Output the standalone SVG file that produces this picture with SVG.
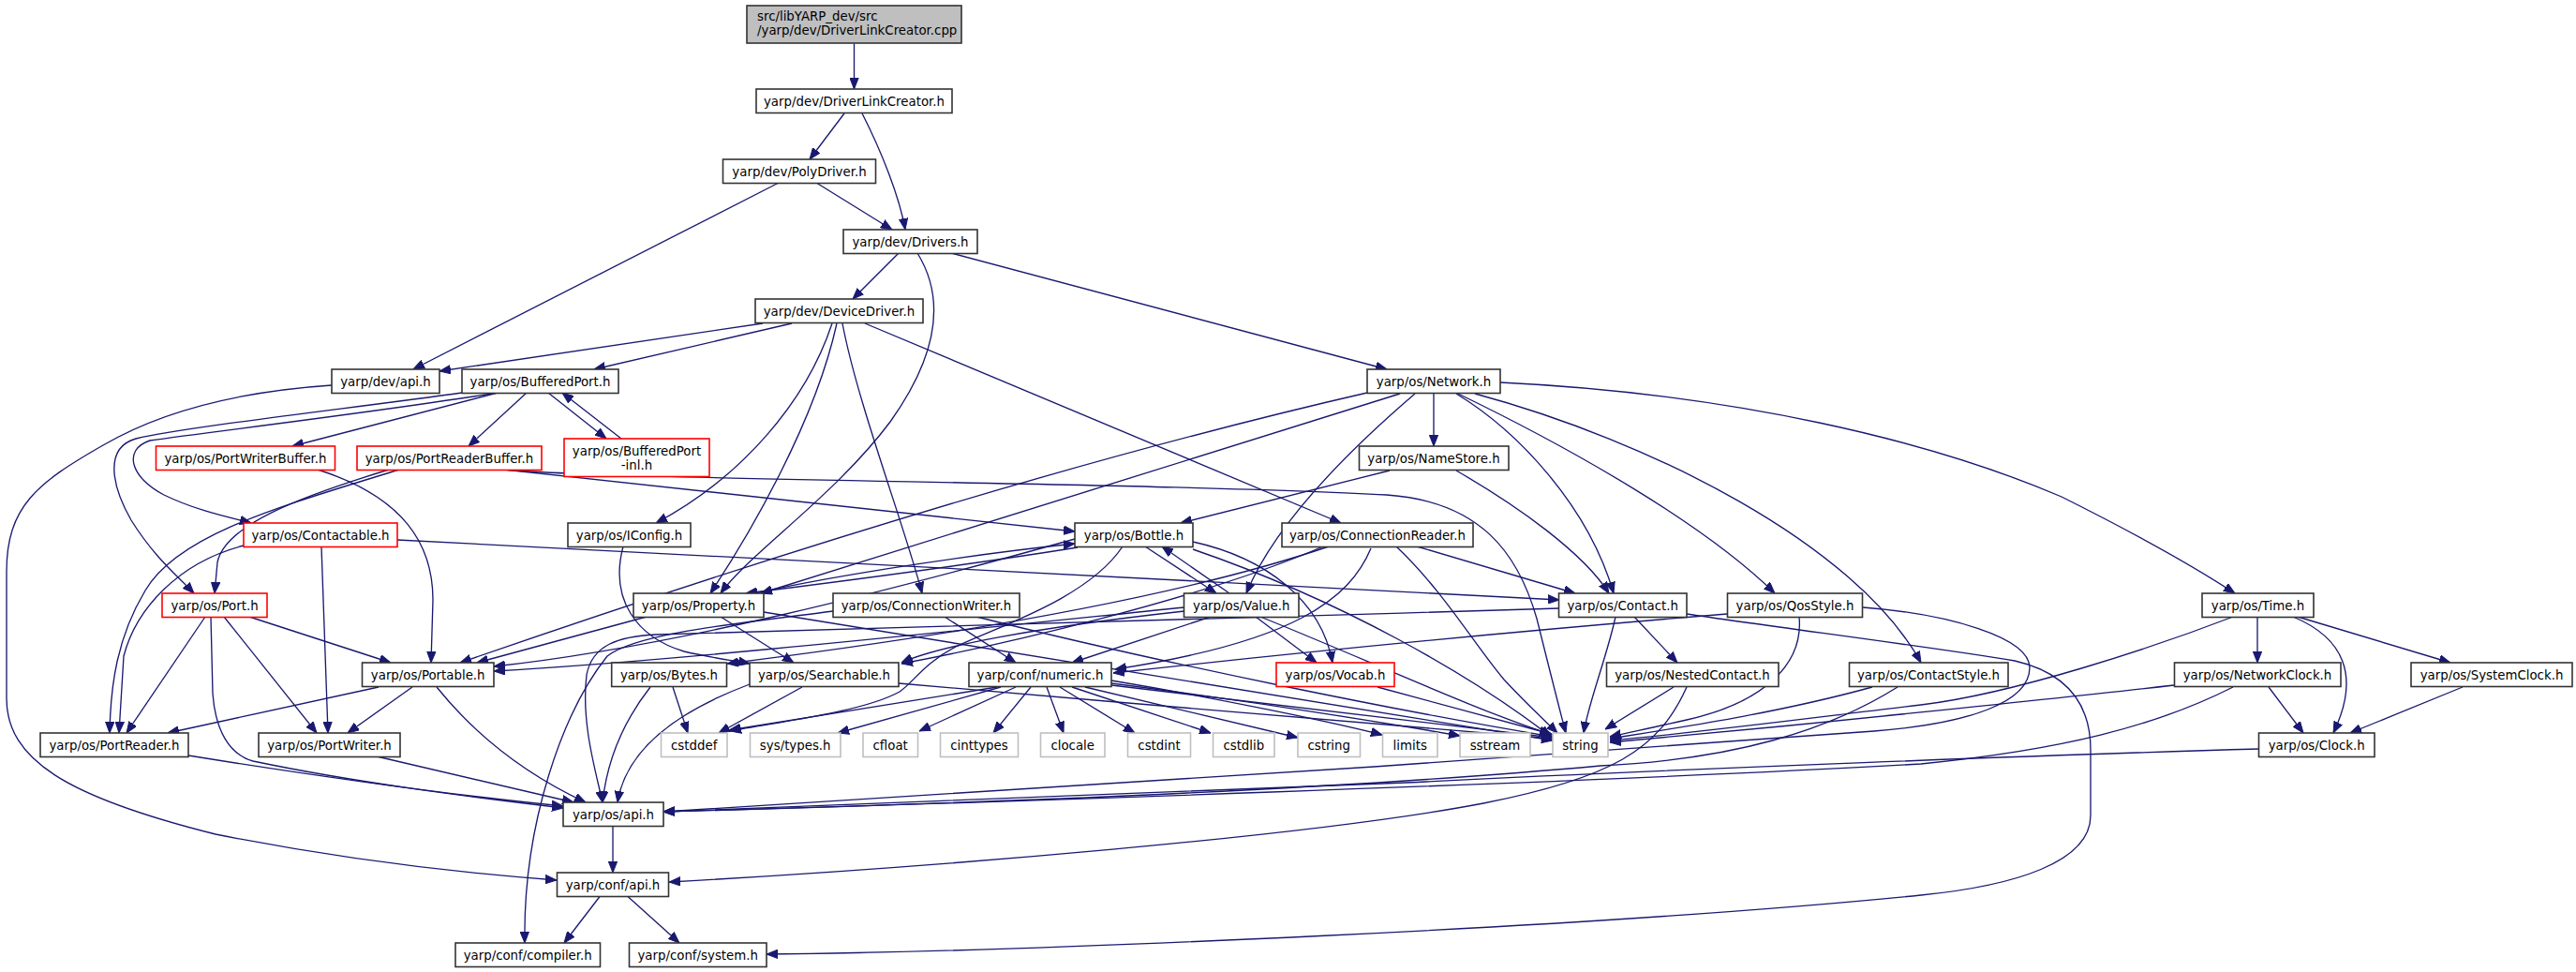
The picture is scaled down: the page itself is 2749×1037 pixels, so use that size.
<svg xmlns="http://www.w3.org/2000/svg" width="2749" height="1037" viewBox="0 0 2749 1037">
<defs>
<marker id="ah" markerUnits="userSpaceOnUse" markerWidth="12" markerHeight="10" viewBox="0 0 12 10" refX="12" refY="5" orient="auto">
<path d="M0,0.3 L12,5 L0,9.7 z" fill="#191970" stroke="#191970" stroke-width="1"/>
</marker>
</defs>
<style>
.n rect{fill:#ffffff;stroke:#333333;stroke-width:1.6}
.r rect{fill:#ffffff;stroke:#ff0000;stroke-width:1.6}
.g rect{fill:#ffffff;stroke:#bfbfbf;stroke-width:1.6}
.root rect{fill:#bfbfbf;stroke:#333333;stroke-width:1.6}
text{font-family:"DejaVu Sans","Liberation Sans",sans-serif;font-size:13.33px;fill:#000000;text-anchor:middle}
.lt{text-anchor:start}
#edges path{fill:none;stroke:#191970;stroke-width:1.33;marker-end:url(#ah)}
</style>
<rect width="2749" height="1037" fill="#ffffff"/>
<g id="edges">
<path d="M911.5,46.5 L911.5,95"/>
<path d="M901,121 L864,170"/>
<path d="M920,121 C940,160 960,210 966,245"/>
<path d="M872,195.5 L952,245"/>
<path d="M830,195.5 L441,394"/>
<path d="M959,270 L910,319"/>
<path d="M1015,270 L1480,394"/>
<path d="M979,270 C1010,320 1000,380 950,450 C890,530 800,590 769,633"/>
<path d="M814,345 L469,396"/>
<path d="M845,345 L634,394"/>
<path d="M888,345 C860,430 790,510 700,558"/>
<path d="M893,345 C870,450 800,570 758,633"/>
<path d="M899,345 C915,430 965,560 984,633"/>
<path d="M923,345 L1431,558"/>
<path d="M354,411 C250,418 170,440 110,475 C40,515 7,540 7,610 L7,745 C7,810 70,850 230,890 C380,920 500,932 594,939"/>
<path d="M493,419 C380,435 200,455 145,468 C110,478 120,520 140,555 C165,595 190,615 207,633"/>
<path d="M531,419 C400,440 230,460 160,470 C130,480 140,510 175,528 C210,545 245,552 268,558"/>
<path d="M531,419 L312,476"/>
<path d="M562,419 L500,476"/>
<path d="M585,419 L647,468"/>
<path d="M663,468 L600,419"/>
<path d="M339,501 C430,530 462,580 462,640 L460,707"/>
<path d="M415,501 C320,530 240,560 232,600 L229,633"/>
<path d="M426,501 C300,540 190,570 155,630 C125,680 118,730 117,782"/>
<path d="M538,501 L1147,567"/>
<path d="M538,501 C650,512 1250,515 1480,528 C1580,535 1620,590 1640,660 C1655,720 1665,760 1671,782"/>
<path d="M424,576 L1664,640"/>
<path d="M260,582 C190,600 145,650 132,700 L127,782"/>
<path d="M343,583 L350,782"/>
<path d="M219,658 L135,782"/>
<path d="M225,658 L227,740 C230,780 245,805 270,812 C380,835 500,850 601,862"/>
<path d="M239,658 L338,782"/>
<path d="M266,658 L417,707"/>
<path d="M665,583 C650,640 680,680 730,695 C760,702 785,705 800,708"/>
<path d="M1530,420 L1530,476"/>
<path d="M1554,420 C1620,460 1695,540 1722,633"/>
<path d="M1556,420 C1680,480 1820,560 1894,633"/>
<path d="M1574,420 C1760,470 1980,580 2050,707"/>
<path d="M1601,408 C1850,420 2060,470 2200,530 C2290,575 2350,610 2385,633"/>
<path d="M1459,419 C1150,490 800,600 491,707"/>
<path d="M1494,420 L812,633"/>
<path d="M1510,420 C1440,480 1360,560 1330,633"/>
<path d="M1483,502 L1260,558"/>
<path d="M1554,502 C1620,540 1690,590 1717,633"/>
<path d="M1512,583 L1681,633"/>
<path d="M1490,583 C1540,630 1575,690 1605,725 C1630,752 1650,770 1662,782"/>
<path d="M1463,585 C1440,640 1380,685 1190,714"/>
<path d="M1418,583 C1250,640 1000,680 776,708"/>
<path d="M1412,583 C1280,640 1060,690 962,708"/>
<path d="M805,633 C900,612 1050,590 1147,580"/>
<path d="M1150,584 C1050,600 900,620 796,633"/>
<path d="M1222,583 L1298,633"/>
<path d="M1312,633 L1240,583"/>
<path d="M1198,583 C1160,640 1060,670 1020,690 C985,708 975,728 960,738 C920,760 830,770 779,780"/>
<path d="M1273,578 C1350,595 1410,640 1422,707"/>
<path d="M1273,586 C1430,640 1570,720 1655,786"/>
<path d="M1147,575 C950,630 720,690 527,711"/>
<path d="M690,658 L509,707"/>
<path d="M769,658 L847,707"/>
<path d="M815,653 L1657,790"/>
<path d="M1292,658 L1144,707"/>
<path d="M1340,658 L1405,707"/>
<path d="M1345,658 C1450,700 1580,760 1657,784"/>
<path d="M1264,652 C1100,670 1000,690 962,707"/>
<path d="M1264,648 C1000,675 720,705 527,716"/>
<path d="M1008,658 L1084,707"/>
<path d="M1042,658 C1250,710 1500,760 1657,786"/>
<path d="M1664,649 C1300,660 900,672 700,677 C660,679 632,688 626,720 C620,770 635,820 643,856"/>
<path d="M889,652 C790,665 680,675 648,700 C600,760 558,880 560,1006"/>
<path d="M1744,658 L1790,707"/>
<path d="M1724,658 C1715,700 1695,750 1690,782"/>
<path d="M1800,655 C1900,670 2060,690 2150,705 C2215,720 2231,760 2231,800 L2231,870 C2231,920 2150,945 2050,955 C1700,990 1100,1015 818,1018"/>
<path d="M1843,655 C1600,675 1350,700 1188,718"/>
<path d="M1920,658 C1925,710 1880,750 1800,768 C1765,776 1740,781 1718,786"/>
<path d="M1988,648 C2080,655 2165,680 2166,712 C2166,750 2100,772 2000,780 C1600,810 1000,850 708,866"/>
<path d="M1786,733 L1713,778"/>
<path d="M1800,733 C1770,800 1720,830 1583,857 C1400,892 1000,925 714,941"/>
<path d="M1998,733 C1900,760 1800,775 1718,788"/>
<path d="M2025,733 C1950,780 1850,810 1708,817 C1400,845 1000,858 708,866"/>
<path d="M2409,658 L2409,707"/>
<path d="M2452,658 L2615,707"/>
<path d="M2447,658 C2500,680 2520,720 2490,782"/>
<path d="M2383,658 C2300,690 2150,740 2050,752 C1900,770 1800,783 1718,790"/>
<path d="M2421,733 L2458,782"/>
<path d="M2320,731 C2200,745 2050,760 1900,775 C1820,782 1760,788 1718,792"/>
<path d="M2383,733 C2300,775 2200,800 2050,815 C1700,835 1000,858 708,866"/>
<path d="M2628,733 L2508,782"/>
<path d="M2411,799 C2200,805 1800,820 1500,835 C1100,850 850,860 708,866"/>
<path d="M404,733 L179,782"/>
<path d="M440,733 L371,782"/>
<path d="M466,733 C520,800 580,835 625,856"/>
<path d="M201,806 C350,830 500,850 601,860"/>
<path d="M402,807 L612,856"/>
<path d="M718,733 L734,782"/>
<path d="M694,733 C665,770 648,810 643,856"/>
<path d="M856,733 L767,782"/>
<path d="M800,730 C720,760 668,800 659,856"/>
<path d="M959,729 C1200,750 1500,775 1657,788"/>
<path d="M1064,733 L778,779"/>
<path d="M1068,733 L894,782"/>
<path d="M1084,733 L981,780"/>
<path d="M1100,733 L1060,782"/>
<path d="M1117,733 L1135,782"/>
<path d="M1131,733 L1211,782"/>
<path d="M1144,733 L1292,782"/>
<path d="M1158,733 L1385,787"/>
<path d="M1186,726 C1300,745 1420,770 1475,784"/>
<path d="M1186,729 C1350,750 1500,775 1558,785"/>
<path d="M1186,731 C1400,755 1580,778 1657,787"/>
<path d="M1470,733 L1655,783"/>
<path d="M654,882 L654,931"/>
<path d="M640,956.5 L602,1006"/>
<path d="M670,956.5 L725,1006"/>
</g>
<g id="n_root" class="root"><rect x="797" y="6" width="229" height="40"/><text class="lt" x="808" y="22">src/libYARP_dev/src</text><text class="lt" x="808" y="37">/yarp/dev/DriverLinkCreator.cpp</text></g>
<g id="n_dlc" class="n"><rect x="807" y="95" width="209" height="25.5"/><text x="911.5" y="112.5">yarp/dev/DriverLinkCreator.h</text></g>
<g id="n_polydriver" class="n"><rect x="771.5" y="170" width="163" height="25.5"/><text x="853" y="187.5">yarp/dev/PolyDriver.h</text></g>
<g id="n_drivers" class="n"><rect x="900" y="245" width="143" height="25.5"/><text x="971.5" y="262.5">yarp/dev/Drivers.h</text></g>
<g id="n_devicedriver" class="n"><rect x="806" y="319" width="179" height="25.5"/><text x="895.5" y="336.5">yarp/dev/DeviceDriver.h</text></g>
<g id="n_devapi" class="n"><rect x="354" y="394" width="115" height="25.5"/><text x="411.5" y="411.5">yarp/dev/api.h</text></g>
<g id="n_bufferedport" class="n"><rect x="493" y="394" width="167" height="25.5"/><text x="576.5" y="411.5">yarp/os/BufferedPort.h</text></g>
<g id="n_network" class="n"><rect x="1459" y="394" width="142" height="25.5"/><text x="1530" y="411.5">yarp/os/Network.h</text></g>
<g id="n_portwriterbuffer" class="r"><rect x="166.5" y="476" width="191" height="25.5"/><text x="262" y="493.5">yarp/os/PortWriterBuffer.h</text></g>
<g id="n_portreaderbuffer" class="r"><rect x="381" y="476" width="197" height="25.5"/><text x="479.5" y="493.5">yarp/os/PortReaderBuffer.h</text></g>
<g id="n_bufferedport_inl" class="r"><rect x="602" y="468" width="155" height="40.5"/><text x="679.5" y="486">yarp/os/BufferedPort</text><text x="679.5" y="500.5">-inl.h</text></g>
<g id="n_namestore" class="n"><rect x="1450.5" y="476" width="159.5" height="25.5"/><text x="1530" y="493.5">yarp/os/NameStore.h</text></g>
<g id="n_contactable" class="r"><rect x="260" y="558" width="164" height="25.5"/><text x="342" y="575.5">yarp/os/Contactable.h</text></g>
<g id="n_iconfig" class="n"><rect x="606" y="558" width="131" height="25.5"/><text x="671.5" y="575.5">yarp/os/IConfig.h</text></g>
<g id="n_bottle" class="n"><rect x="1147" y="558" width="126" height="25.5"/><text x="1210" y="575.5">yarp/os/Bottle.h</text></g>
<g id="n_connectionreader" class="n"><rect x="1368" y="558" width="204" height="25.5"/><text x="1470" y="575.5">yarp/os/ConnectionReader.h</text></g>
<g id="n_port" class="r"><rect x="173" y="633" width="112" height="25.5"/><text x="229" y="650.5">yarp/os/Port.h</text></g>
<g id="n_property" class="n"><rect x="676" y="633" width="139" height="25.5"/><text x="745.5" y="650.5">yarp/os/Property.h</text></g>
<g id="n_connectionwriter" class="n"><rect x="889" y="633" width="199" height="25.5"/><text x="988.5" y="650.5">yarp/os/ConnectionWriter.h</text></g>
<g id="n_value" class="n"><rect x="1263.5" y="633" width="122.5" height="25.5"/><text x="1324.7" y="650.5">yarp/os/Value.h</text></g>
<g id="n_contact" class="n"><rect x="1663.5" y="633" width="136.5" height="25.5"/><text x="1731.7" y="650.5">yarp/os/Contact.h</text></g>
<g id="n_qosstyle" class="n"><rect x="1843.5" y="633" width="144" height="25.5"/><text x="1915.5" y="650.5">yarp/os/QosStyle.h</text></g>
<g id="n_time" class="n"><rect x="2350" y="633" width="119" height="25.5"/><text x="2409.5" y="650.5">yarp/os/Time.h</text></g>
<g id="n_portable" class="n"><rect x="386.5" y="707" width="140.5" height="25.5"/><text x="456.7" y="724.5">yarp/os/Portable.h</text></g>
<g id="n_bytes" class="n"><rect x="652.7" y="707" width="122.8" height="25.5"/><text x="714" y="724.5">yarp/os/Bytes.h</text></g>
<g id="n_searchable" class="n"><rect x="800" y="707" width="159" height="25.5"/><text x="879.5" y="724.5">yarp/os/Searchable.h</text></g>
<g id="n_numeric" class="n"><rect x="1034" y="707" width="152" height="25.5"/><text x="1110" y="724.5">yarp/conf/numeric.h</text></g>
<g id="n_vocab" class="r"><rect x="1362" y="707" width="126" height="25.5"/><text x="1425" y="724.5">yarp/os/Vocab.h</text></g>
<g id="n_nestedcontact" class="n"><rect x="1714.5" y="707" width="183.5" height="25.5"/><text x="1806" y="724.5">yarp/os/NestedContact.h</text></g>
<g id="n_contactstyle" class="n"><rect x="1973.5" y="707" width="169.5" height="25.5"/><text x="2058" y="724.5">yarp/os/ContactStyle.h</text></g>
<g id="n_networkclock" class="n"><rect x="2320.5" y="707" width="177.5" height="25.5"/><text x="2409" y="724.5">yarp/os/NetworkClock.h</text></g>
<g id="n_systemclock" class="n"><rect x="2573" y="707" width="172" height="25.5"/><text x="2659" y="724.5">yarp/os/SystemClock.h</text></g>
<g id="n_portreader" class="n"><rect x="43" y="782" width="158" height="25.5"/><text x="122" y="799.5">yarp/os/PortReader.h</text></g>
<g id="n_portwriter" class="n"><rect x="276" y="782" width="151" height="25.5"/><text x="351.5" y="799.5">yarp/os/PortWriter.h</text></g>
<g id="n_cstddef" class="g"><rect x="705.5" y="782" width="70.5" height="25.5"/><text x="740.7" y="799.5">cstddef</text></g>
<g id="n_systypes" class="g"><rect x="800.5" y="782" width="96.5" height="25.5"/><text x="848.7" y="799.5">sys/types.h</text></g>
<g id="n_cfloat" class="g"><rect x="921" y="782" width="58.5" height="25.5"/><text x="950.2" y="799.5">cfloat</text></g>
<g id="n_cinttypes" class="g"><rect x="1003.5" y="782" width="83" height="25.5"/><text x="1045" y="799.5">cinttypes</text></g>
<g id="n_clocale" class="g"><rect x="1110.5" y="782" width="68.5" height="25.5"/><text x="1144.7" y="799.5">clocale</text></g>
<g id="n_cstdint" class="g"><rect x="1203.5" y="782" width="67" height="25.5"/><text x="1237" y="799.5">cstdint</text></g>
<g id="n_cstdlib" class="g"><rect x="1294.5" y="782" width="65.5" height="25.5"/><text x="1327.3" y="799.5">cstdlib</text></g>
<g id="n_cstring" class="g"><rect x="1385" y="782" width="66.5" height="25.5"/><text x="1418.2" y="799.5">cstring</text></g>
<g id="n_limits" class="g"><rect x="1475.5" y="782" width="58.5" height="25.5"/><text x="1504.7" y="799.5">limits</text></g>
<g id="n_sstream" class="g"><rect x="1558" y="782" width="75" height="25.5"/><text x="1595.5" y="799.5">sstream</text></g>
<g id="n_string" class="g"><rect x="1657" y="782" width="59" height="25.5"/><text x="1686.5" y="799.5">string</text></g>
<g id="n_clock" class="n"><rect x="2410.5" y="782" width="123.5" height="25.5"/><text x="2472.2" y="799.5">yarp/os/Clock.h</text></g>
<g id="n_osapi" class="n"><rect x="601" y="856" width="107" height="25.5"/><text x="654.5" y="873.5">yarp/os/api.h</text></g>
<g id="n_confapi" class="n"><rect x="594.5" y="931" width="119" height="25.5"/><text x="654" y="948.5">yarp/conf/api.h</text></g>
<g id="n_compiler" class="n"><rect x="486" y="1006" width="154.5" height="25.5"/><text x="563.2" y="1023.5">yarp/conf/compiler.h</text></g>
<g id="n_system" class="n"><rect x="671.5" y="1006" width="146.5" height="25.5"/><text x="744.7" y="1023.5">yarp/conf/system.h</text></g>
</svg>
